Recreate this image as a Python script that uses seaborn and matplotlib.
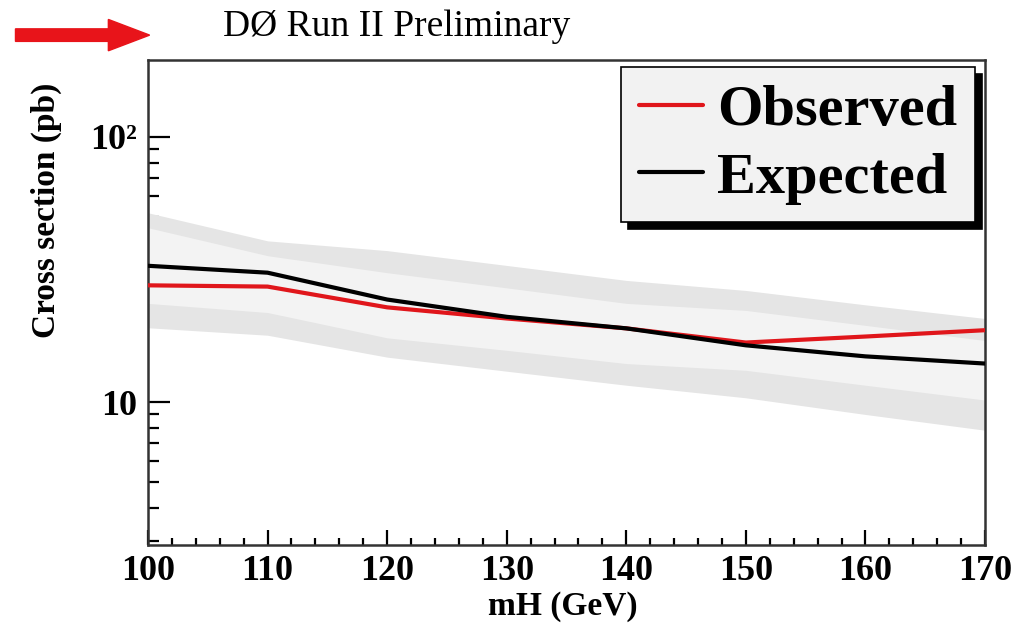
import matplotlib
matplotlib.use("Agg")
import matplotlib.pyplot as plt
from matplotlib.patches import FancyArrow
from matplotlib.ticker import FixedLocator, FixedFormatter, MultipleLocator, NullFormatter
import seaborn as sns
import pandas as pd

# values
mass = [100, 110, 120, 130, 140, 150, 160, 170]
observed = [27.6, 27.3, 22.8, 20.7, 19.0, 16.8, 17.7, 18.7]
expected = [32.7, 30.8, 24.4, 21.0, 19.0, 16.4, 14.9, 14.0]
band2_hi = [51.8, 40.6, 37.3, 32.8, 28.8, 26.4, 23.3, 20.7]
band1_hi = [45.5, 35.7, 30.8, 27.0, 23.6, 22.2, 19.5, 17.1]
band1_lo = [23.6, 21.8, 17.5, 15.7, 14.0, 13.2, 11.6, 10.2]
band2_lo = [19.1, 17.9, 14.8, 13.1, 11.6, 10.4, 9.0, 7.85]

sns.set_style("ticks")
plt.rcParams['font.family'] = ['Liberation Serif', 'DejaVu Serif']
plt.rcParams.update({'text.color': 'black', 'axes.labelcolor': 'black',
                     'xtick.color': 'black', 'ytick.color': 'black'})

df = pd.DataFrame({'mH': mass, 'Observed': observed, 'Expected': expected})
long_df = df.melt(id_vars='mH', var_name='curve', value_name='xsec')

fig = plt.figure(figsize=(10.32, 6.27), dpi=100)
ax = fig.add_axes([0.1434, 0.1308, 0.8111, 0.7735])

ax.fill_between(mass, band2_lo, band2_hi, color='#e5e5e5', lw=0, zorder=1)
ax.fill_between(mass, band1_lo, band1_hi, color='#f3f3f3', lw=0, zorder=1)

sns.lineplot(data=long_df, x='mH', y='xsec', hue='curve',
             palette={'Observed': '#e0161b', 'Expected': 'black'},
             linewidth=3, ax=ax, zorder=3)

ax.set_yscale('log')
ax.set_xlim(100, 170)
ax.set_ylim(2.9, 195)

ax.xaxis.set_major_locator(MultipleLocator(10))
ax.xaxis.set_minor_locator(MultipleLocator(2))
ax.yaxis.set_major_locator(FixedLocator([10, 100]))
ax.yaxis.set_major_formatter(FixedFormatter(['10', '10²']))
minors = [m * d for d in (1, 10, 100) for m in range(2, 10)]
ax.yaxis.set_minor_locator(FixedLocator(minors))
ax.yaxis.set_minor_formatter(NullFormatter())

ax.tick_params(which='both', direction='in', top=False, right=False, width=1.6)
ax.tick_params(axis='x', which='major', length=11, labelsize=26, pad=7)
ax.tick_params(axis='x', which='minor', length=5)
ax.tick_params(axis='y', which='major', length=16, labelsize=26, pad=8)
ax.tick_params(axis='y', which='minor', length=8)
for lab in ax.get_xticklabels() + ax.get_yticklabels():
    lab.set_fontweight('bold')

for sp in ax.spines.values():
    sp.set_linewidth(1.8)
    sp.set_color('#333333')

ax.set_xlabel('')
ax.set_ylabel('')
fig.text(0.545, 0.033, 'mH (GeV)', fontsize=24, fontweight='bold',
         ha='center', va='center')
fig.text(0.045, 0.665, 'Cross section (pb)', rotation=90, fontsize=24,
         fontweight='bold', ha='center', va='center')

handles, labels = ax.get_legend_handles_labels()
leg = ax.legend(handles, labels, loc='upper right', bbox_to_anchor=(0.988, 0.986),
                prop={'weight': 'bold', 'size': 42},
                frameon=True, fancybox=False, facecolor='#f2f2f2', edgecolor='black',
                framealpha=1, shadow={'ox': 5, 'oy': -5, 'color': 'black', 'alpha': 1},
                handlelength=1.1, handletextpad=0.25, borderpad=0.3, labelspacing=0.25,
                borderaxespad=0)
leg.get_frame().set_linewidth(1.2)
for line in leg.get_lines():
    line.set_linewidth(3)

fig.text(0.216, 0.957, 'DØ Run II Preliminary', fontsize=27, ha='left', va='center')
fig.add_artist(FancyArrow(0.015, 0.944, 0.13, 0, width=0.02, head_width=0.05,
                          head_length=0.04, length_includes_head=True,
                          color='#e8141a', transform=fig.transFigure))

fig.savefig('out.png', dpi=100)
plt.close(fig)
